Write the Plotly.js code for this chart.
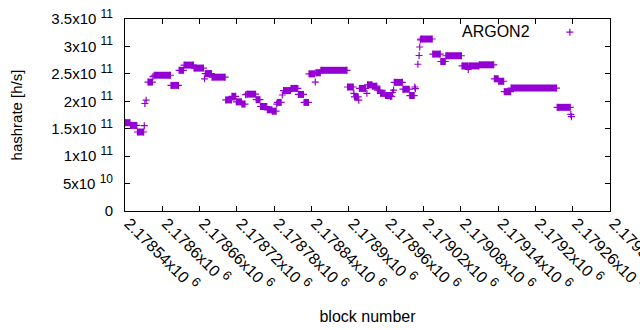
<!DOCTYPE html>
<html>
<head>
<meta charset="utf-8">
<script src="https://cdn.plot.ly/plotly-3.0.1.min.js"></script>
<style>html,body{margin:0;padding:0;background:#fff}#chart{width:640px;height:330px}</style>
</head>
<body>
<div id="chart"></div>
<script>
// Runs of constant hashrate: first block, last block, value (h/s)
var runStart = [2178540,2178549,2178560,2178571,2178572,2178574,2178577,2178585,2178587,2178614,
  2178627,2178635,2178651,2178668,2178669,2178680,2178702,2178712,2178719,2178728,
  2178734,2178736,2178751,2178758,2178769,2178777,2178784,2178785,2178793,2178795,
  2178807,2178819,2178828,2178836,2178846,2178847,2178855,2178898,2178908,2178909,
  2178916,2178917,2178929,2178930,2178938,2178946,2178951,2178959,2178967,2178970,
  2178972,2178973,2178987,2178998,2179006,2179007,2179011,2179013,2179014,2179015,
  2179016,2179035,2179048,2179056,2179082,2179092,2179093,2179110,2179134,2179141,
  2179150,2179161,2179235,2179257,2179258];
var runEnd = [2178548,2178559,2178570,2178571,2178572,2178574,2178584,2178585,2178613,2178626,
  2178634,2178650,2178666,2178668,2178679,2178701,2178711,2178718,2178727,2178733,
  2178734,2178750,2178757,2178768,2178776,2178783,2178784,2178791,2178793,2178806,
  2178818,2178827,2178835,2178845,2178846,2178854,2178897,2178907,2178908,2178915,
  2178916,2178927,2178929,2178937,2178945,2178950,2178958,2178966,2178969,2178970,
  2178972,2178986,2178997,2179005,2179006,2179007,2179011,2179013,2179014,2179015,
  2179034,2179047,2179055,2179081,2179091,2179092,2179109,2179133,2179140,2179149,
  2179160,2179234,2179256,2179257,2179258];
var runValue = [1.61e11,1.56e11,1.44e11,1.555e11,1.96e11,2.02e11,2.35e11,2.45e11,2.475e11,2.29e11,
  2.565e11,2.66e11,2.605e11,2.41e11,2.505e11,2.44e11,2.025e11,2.09e11,1.99e11,1.95e11,
  2.12e11,2.13e11,2.03e11,1.905e11,1.845e11,1.82e11,1.95e11,1.98e11,2.115e11,2.195e11,
  2.235e11,2.125e11,1.98e11,2.50e11,2.35e11,2.52e11,2.565e11,2.26e11,2.145e11,2.08e11,
  2.02e11,2.235e11,2.145e11,2.30e11,2.275e11,2.205e11,2.145e11,2.105e11,2.09e11,2.16e11,
  2.205e11,2.345e11,2.22e11,2.105e11,2.26e11,2.23e11,2.675e11,2.835e11,2.99e11,3.12e11,
  3.135e11,2.86e11,2.725e11,2.83e11,2.645e11,2.58e11,2.645e11,2.665e11,2.41e11,2.365e11,
  2.175e11,2.24e11,1.89e11,1.76e11,1.72e11];

var xTickVals = [2178540,2178600,2178660,2178720,2178780,2178840,2178900,2178960,2179020,2179080,2179140,2179200,2179260,2179320];
var xTickText = ["2.17854x10","2.1786x10","2.17866x10","2.17872x10","2.17878x10","2.17884x10","2.1789x10",
  "2.17896x10","2.17902x10","2.17908x10","2.17914x10","2.1792x10","2.17926x10","2.17932x10"];
var xTickExp = "6";
var yTickVals = [0,5e10,1e11,1.5e11,2e11,2.5e11,3e11,3.5e11];
var yTickText = ["0","5x10","1x10","1.5x10","2x10","2.5x10","3x10","3.5x10"];
var yTickExp = ["","10","11","11","11","11","11","11"];

var seriesName = "ARGON2";
var color = "#9400D3";

var lx = [], ly = [], mx = [], my = [];
for (var i = 0; i < runStart.length; i++) {
  if (runEnd[i] > runStart[i]) {
    lx.push(runStart[i], runEnd[i], null);
    ly.push(runValue[i], runValue[i], null);
  }
  mx.push(runStart[i]); my.push(runValue[i]);
  if (runEnd[i] !== runStart[i]) { mx.push(runEnd[i]); my.push(runValue[i]); }
}

var fam = "Liberation Sans, Arial, sans-serif";
function sup(base, e, px) {
  return e ? base + " <sup><span style=\"font-size:" + px + "px\">" + e + "</span></sup>" : base;
}

var traces = [
  {x: lx, y: ly, type: "scatter", mode: "lines", line: {color: color, width: 7}, connectgaps: false,
   showlegend: false, hoverinfo: "skip"},
  {x: mx, y: my, type: "scatter", mode: "markers", name: " ",
   marker: {symbol: "cross-thin-open", size: 5, color: color, line: {color: color, width: 1.2}},
   showlegend: true}
];

var layout = {
  width: 640, height: 330,
  margin: {l: 125, r: 30, t: 19, b: 119},
  paper_bgcolor: "#fff", plot_bgcolor: "#fff",
  font: {family: fam, size: 15, color: "#000"},
  showlegend: true,
  legend: {x: 0.876, y: 1.016, xanchor: "left", yanchor: "top", bgcolor: "rgba(0,0,0,0)",
           font: {family: fam, size: 15, color: "#000"}, itemwidth: 30},
  annotations: [{xref: "paper", yref: "paper", x: 0.839, y: 0.934, xanchor: "right", yanchor: "middle",
                 text: seriesName, showarrow: false, font: {family: fam, size: 16, color: "#000"}}],
  xaxis: {
    range: [2178540, 2179320], autorange: false, automargin: false,
    tickmode: "array", tickvals: xTickVals,
    ticktext: xTickText.map(function(t){ return sup(t, xTickExp, 13); }),
    tickangle: 45, ticks: "inside", ticklen: 5, tickcolor: "#000", tickwidth: 1,
    ticklabeloverflow: "allow", ticklabelstandoff: -4, ticklabelshift: 4,
    showline: true, linecolor: "#000", linewidth: 1, mirror: "ticks",
    showgrid: false, zeroline: false,
    tickfont: {family: fam, size: 16, color: "#000"},
    title: {text: "block number", font: {family: fam, size: 16, color: "#000"}, standoff: 17}
  },
  yaxis: {
    range: [0, 3.5e11], autorange: false, automargin: false,
    tickmode: "array", tickvals: yTickVals,
    ticktext: yTickText.map(function(t, i){ return sup(t, yTickExp[i], 12); }),
    ticks: "inside", ticklen: 5, tickcolor: "#000", tickwidth: 1,
    showline: true, linecolor: "#000", linewidth: 1, mirror: "ticks",
    showgrid: false, zeroline: false, ticklabelstandoff: 8,
    tickfont: {family: fam, size: 15, color: "#000"},
    title: {text: "hashrate [h/s]", font: {family: fam, size: 15, color: "#000"}, standoff: 25}
  }
};

Plotly.newPlot("chart", traces, layout, {staticPlot: true, displayModeBar: false});
</script>
</body>
</html>
